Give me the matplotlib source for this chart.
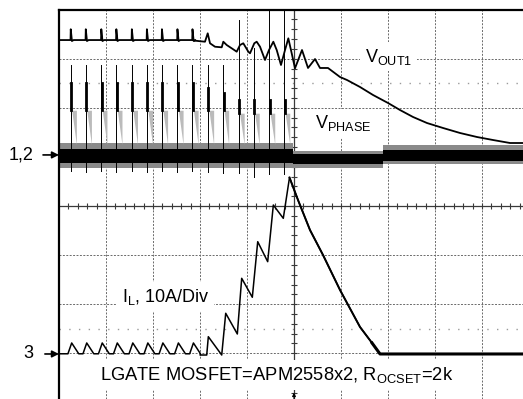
import matplotlib
matplotlib.use('Agg')
from matplotlib import pyplot as plt
import numpy as np

plt.rcParams['font.family'] = ['Liberation Sans', 'DejaVu Sans']
plt.rcParams['mathtext.fontset'] = 'custom'
plt.rcParams['mathtext.rm'] = 'Liberation Sans'
plt.rcParams['mathtext.it'] = 'Liberation Sans:italic'

# all values in screen divisions: x from the left edge, y from the centre line (up = +)
pulse_x = [0.25, 0.57, 0.90, 1.22, 1.55, 1.87, 2.19, 2.52, 2.84, 3.17, 3.49, 3.82, 4.14, 4.47, 4.79]
pulse_top = [2.87, 2.87, 2.87, 2.87, 2.87, 2.87, 2.87, 2.87, 2.87, 2.87, 2.87, 3.79, 3.22, 4.0, 4.0]
plat_top = [2.50, 2.50, 2.50, 2.50, 2.50, 2.50, 2.50, 2.50, 2.50, 2.40, 2.30, 2.16, 2.16, 2.16, 2.16]
plat_bot = [1.95, 1.95, 1.95, 1.95, 1.95, 1.95, 1.95, 1.95, 1.95, 1.95, 1.95, 1.89, 1.89, 1.89, 1.89]
pulse_low = [0.72, 0.70, 0.72, 0.70, 0.72, 0.70, 0.72, 0.70, 0.72, 0.70, 0.67, 0.67, 0.59, 0.66, 0.66]

# VPHASE noise band
band_x0 = [0.0, 4.98, 6.89]
band_x1 = [4.98, 6.89, 9.872]
band_core_top = [1.16, 1.06, 1.14]
band_core_bot = [0.88, 0.85, 0.92]
band_out_top = [1.28, 1.12, 1.24]
band_out_bot = [0.78, 0.78, 0.86]

# VOUT1
vout_base = 3.38
vout_spike = 3.60
vout_tail_x = [2.894, 3.106, 3.164, 3.213, 3.319, 3.462, 3.496, 3.568, 3.674, 3.781, 3.851,
               3.921, 4.028, 4.064, 4.155, 4.206, 4.277, 4.383, 4.468, 4.560, 4.632, 4.723,
               4.809, 4.879, 4.951, 5.021, 5.170, 5.298, 5.447, 5.553, 5.723, 5.979, 6.128,
               6.404, 6.681, 7.000, 7.255, 7.532, 7.830, 8.170, 8.532, 8.894, 9.234, 9.596, 9.872]
vout_tail_y = [3.367, 3.346, 3.517, 3.314, 3.244, 3.232, 3.346, 3.279, 3.212, 3.143, 3.279,
               3.314, 3.143, 3.110, 3.314, 3.346, 3.244, 2.974, 3.177, 3.346, 3.177, 2.872,
               3.177, 3.415, 3.110, 2.804, 3.177, 2.811, 2.994, 2.811, 2.811, 2.627, 2.566,
               2.424, 2.261, 2.098, 1.955, 1.813, 1.690, 1.589, 1.487, 1.405, 1.344, 1.283, 1.283]

# IL
il_base = -3.01
il_apex = -2.79
il_tail_x = [3.000, 3.143, 3.177, 3.462, 3.547, 3.794, 3.887, 4.113, 4.228, 4.440, 4.560,
             4.772, 4.904, 5.085, 5.340, 5.617, 5.979, 6.404, 6.660, 6.830, 9.872]
il_tail_y = [-3.035, -3.035, -2.662, -3.035, -2.185, -2.607, -1.473, -1.859, -0.727, -1.134, 0.020,
             -0.251, 0.580, 0.122, -0.489, -0.998, -1.711, -2.464, -2.790, -3.014, -3.014]


def set_grid(ax):
    for k in range(1, 10):
        if k != 5:
            ax.axvline(k, color='#6a6a6a', lw=0.7, ls=(0, (2, 1.5)), zorder=1)
    for k in [-3, -2, -1, 1, 2, 3]:
        ax.axhline(k, color='#6a6a6a', lw=0.7, ls=(0, (2, 1.5)), zorder=1)
    for k in [-2.5, 2.5]:
        ax.axhline(k, color='#9a9a9a', lw=1.0, ls=(0, (1, 6)), zorder=1)
    ax.axvline(5, color='#3a3a3a', lw=0.9, zorder=1)
    ax.axhline(0, color='#3a3a3a', lw=0.9, zorder=1)
    xs = np.arange(0.2, 9.9, 0.2)
    ax.vlines(xs, -0.07, 0.07, color='#3a3a3a', lw=0.8, zorder=1)
    ys = np.arange(-3.8, 4.0, 0.2)
    ax.hlines(ys, 4.93, 5.07, color='#3a3a3a', lw=0.8, zorder=1)


def main():
    fig = plt.figure(figsize=(5.23, 3.99), dpi=100)
    ax = fig.add_axes([59 / 523, 0, 464 / 523, 389 / 399])
    ax.set_xlim(0, 9.872)
    ax.set_ylim(-3.931, 3.992)
    ax.set_xticks([])
    ax.set_yticks([])
    for s in ['right', 'bottom']:
        ax.spines[s].set_visible(False)
    for s in ['left', 'top']:
        ax.spines[s].set_linewidth(1.6)
        ax.spines[s].set_zorder(6)
    set_grid(ax)

    # VPHASE
    for x0, x1, ct, cb, ot, ob in zip(band_x0, band_x1, band_core_top, band_core_bot,
                                      band_out_top, band_out_bot):
        ax.fill_between([x0, x1], [ob, ob], [ot, ot], color='#8a8a8a', lw=0, zorder=2)
        ax.fill_between([x0, x1], [cb, cb], [ct, ct], color='black', lw=0, zorder=2)
    for p, t, pt, pb, lo in zip(pulse_x, pulse_top, plat_top, plat_bot, pulse_low):
        ax.fill_between([p + 0.02, p + 0.12], [pb, 1.25], [pb, pb], color='#bbbbbb', lw=0, zorder=2)
        ax.plot([p, p], [lo, t], color='black', lw=0.7, zorder=3)
        ax.plot([p + 0.01, p + 0.01], [pb, pt], color='black', lw=2.0, zorder=3)

    # VOUT1
    vx, vy = [0.0], [vout_base]
    for p in pulse_x[:9]:
        vx += [p - 0.005, p, p + 0.025, p + 0.06]
        vy += [vout_base, vout_spike, vout_base - 0.02, vout_base]
    vx += vout_tail_x
    vy += vout_tail_y
    ax.plot(vx, vy, color='black', lw=1.3, zorder=4)

    # IL
    ix, iy = [0.0], [il_base]
    for p in pulse_x[:9]:
        ix += [p - 0.06, p + 0.02, p + 0.17]
        iy += [il_base, il_apex, il_base]
    ix += il_tail_x
    iy += il_tail_y
    ax.plot(ix, iy, color='black', lw=1.1, zorder=4)
    ax.plot(il_tail_x[12:19], il_tail_y[12:19], color='black', lw=1.4, zorder=4)
    ax.plot(il_tail_x[18:], il_tail_y[18:], color='black', lw=2.2, zorder=4)

    box = dict(boxstyle='square,pad=0.25', fc='white', ec='none')
    ax.text(6.51, 2.94, r'V$_{\mathrm{OUT1}}$', fontsize=13, ha='left', va='baseline',
            bbox=box, zorder=5)
    ax.text(5.447, 1.582, r'V$_{\mathrm{PHASE}}$', fontsize=13, ha='left', va='baseline',
            bbox=box, zorder=5)
    ax.text(1.334, -1.949, r'I$_{\mathrm{L}}$, 10A/Div', fontsize=13, ha='left', va='baseline',
            bbox=box, zorder=5)
    ax.text(0.872, -3.544, r'LGATE MOSFET=APM2558x2, R$_{\mathrm{OCSET}}$=2k', fontsize=13.2,
            ha='left', va='baseline', bbox=box, zorder=5)

    # channel markers
    arrow = dict(arrowstyle='-|>', color='black', lw=1.2, mutation_scale=10, shrinkA=0, shrinkB=0)
    ax.annotate('', xy=(0, 1.04), xytext=(-0.34, 1.04), arrowprops=arrow, annotation_clip=False)
    ax.annotate('', xy=(0, -3.014), xytext=(-0.30, -3.014), arrowprops=arrow, annotation_clip=False)
    ax.text(-0.553, 1.04, '1,2', fontsize=13, ha='right', va='center', clip_on=False)
    ax.text(-0.553, -3.014, '3', fontsize=13, ha='right', va='center', clip_on=False)
    ax.annotate('', xy=(5, -3.80), xytext=(5, -3.931),
                arrowprops=dict(arrowstyle='-|>', color='black', lw=0.8, mutation_scale=5,
                                shrinkA=0, shrinkB=0))

    fig.savefig('out.png', dpi=100)


if __name__ == '__main__':
    main()
